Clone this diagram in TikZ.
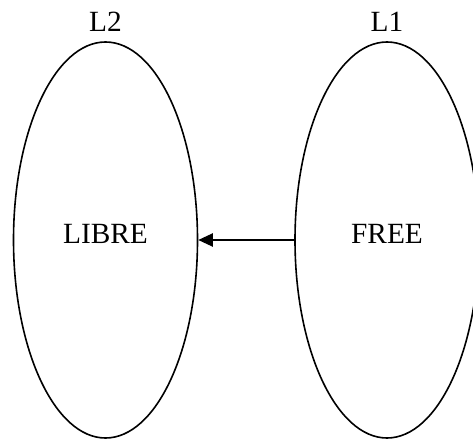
\documentclass[tikz,border=0pt]{standalone}
\usepackage{fontspec}
\setmainfont{Liberation Serif}
\usetikzlibrary{shapes.geometric,arrows.meta}

\tikzset{every picture/.style={line width=1.2pt}}
\tikzset{
  langset/.style={draw, ellipse, inner sep=0pt, minimum width=138pt, minimum height=297pt},
  langtext/.style={inner sep=0.75pt, font=\fontsize{22}{26}\selectfont}
}

\begin{document}
\begin{tikzpicture}[x=0.75pt,y=0.75pt,yscale=-1,xscale=1]
				\useasboundingbox (0,0) rectangle (473,441);
				
				%Shape: Ellipse [id:l2set] 
				\node [langset] (l2set) at (105.5,240) {};
				%Shape: Ellipse [id:l1set] 
				\node [langset] (l1set) at (387,240) {};
				
				% Text Node
				\draw (105.5,32) node [anchor=base][langtext] (l2name) {L2};
				% Text Node
				\draw (387,32) node [anchor=base][langtext] (l1name) {L1};
				% Text Node
				\draw (105.5,243) node [anchor=base][langtext] (libre) {LIBRE};
				% Text Node
				\draw (387,243) node [anchor=base][langtext] (free) {FREE};
				
				%Straight Lines [id:translate] 
				\draw [-{Triangle[length=11pt,width=10pt]}] (l1set.west) -- (l2set.east) ;
			\end{tikzpicture}
\end{document}
